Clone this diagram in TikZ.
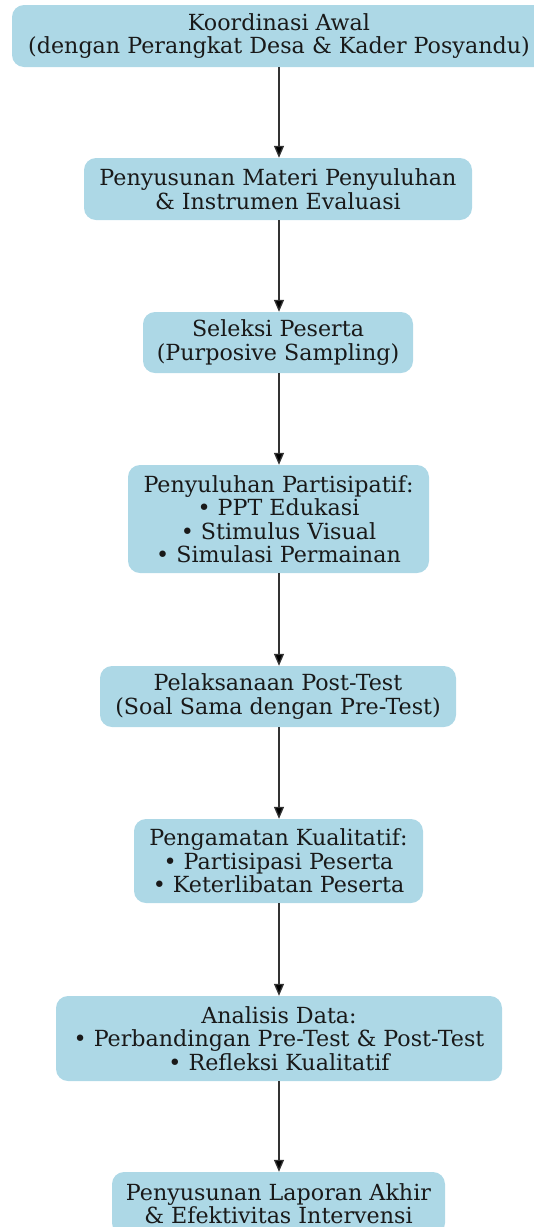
\documentclass[tikz,border=0pt]{standalone}
\usepackage{fontspec}
\setmainfont{DejaVu Serif}
\usetikzlibrary{arrows.meta}
\definecolor{boxfill}{HTML}{ADD8E6}
\definecolor{inkline}{HTML}{333333}
\tikzset{
  stepbox/.style={fill=boxfill, draw=none, rounded corners=12pt, inner sep=0pt,
    align=center, font=\fontsize{22.2}{23.5}\selectfont, text=black!90},
  flow/.style={draw=inkline, line width=1.3pt, -{Triangle[length=12pt,width=10pt,fill=black]}}
}
\begin{document}
\begin{tikzpicture}[x=1pt,y=-1pt]
\useasboundingbox (0,0) rectangle (534,1227);
\coordinate (axis) at (279,0);
\node[stepbox, minimum width=534pt, minimum height=62pt] (n1) at (279,36) {Koordinasi Awal\\(dengan Perangkat Desa \& Kader Posyandu)};
\node[stepbox, minimum width=388pt, minimum height=62pt] (n2) at (278,189) {Penyusunan Materi Penyuluhan\\\& Instrumen Evaluasi};
\node[stepbox, minimum width=270pt, minimum height=61pt] (n3) at (278,342.5) {Seleksi Peserta\\(Purposive Sampling)};
\node[stepbox, minimum width=301pt, minimum height=108pt] (n4) at (278.5,519) {Penyuluhan Partisipatif:\\• PPT Edukasi\\• Stimulus Visual\\• Simulasi Permainan};
\node[stepbox, minimum width=356pt, minimum height=61pt] (n5) at (278,696.5) {Pelaksanaan Post-Test\\(Soal Sama dengan Pre-Test)};
\node[stepbox, minimum width=289pt, minimum height=84pt] (n6) at (278.5,861) {Pengamatan Kualitatif:\\• Partisipasi Peserta\\• Keterlibatan Peserta};
\node[stepbox, minimum width=446pt, minimum height=85pt] (n7) at (279,1038.5) {Analisis Data:\\• Perbandingan Pre-Test \& Post-Test\\• Refleksi Kualitatif};
\node[stepbox, minimum width=333pt, minimum height=63pt] (n8) at (278.5,1203.5) {Penyusunan Laporan Akhir\\\& Efektivitas Intervensi};
\draw[flow] (n1.south -| axis) -- (n2.north -| axis);
\draw[flow] (n2.south -| axis) -- (n3.north -| axis);
\draw[flow] (n3.south -| axis) -- (n4.north -| axis);
\draw[flow] (n4.south -| axis) -- (n5.north -| axis);
\draw[flow] (n5.south -| axis) -- (n6.north -| axis);
\draw[flow] (n6.south -| axis) -- (n7.north -| axis);
\draw[flow] (n7.south -| axis) -- (n8.north -| axis);
\end{tikzpicture}
\end{document}
